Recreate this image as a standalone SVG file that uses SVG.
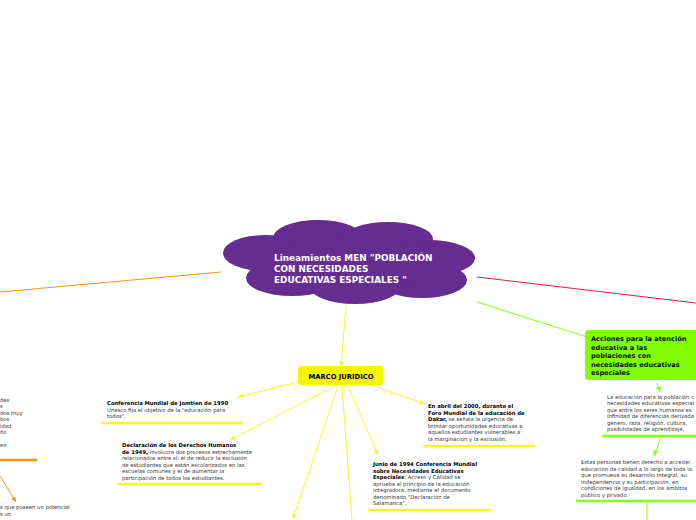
<svg xmlns="http://www.w3.org/2000/svg" width="696" height="520" viewBox="0 0 696 520">
<defs>
<style>
.t{font-family:"DejaVu Sans","Liberation Sans",sans-serif;font-size:5.3px;fill:#333}
.b{font-weight:bold;fill:#000}
.title{font-family:"DejaVu Sans","Liberation Sans",sans-serif;font-size:8.9px;font-weight:bold;fill:#fff}
.mj{font-family:"DejaVu Sans","Liberation Sans",sans-serif;font-size:6.8px;font-weight:bold;fill:#000}
.ac{font-family:"DejaVu Sans","Liberation Sans",sans-serif;font-size:6.6px;font-weight:bold;fill:#111}
.y{stroke:#f5f530;stroke-width:1;fill:none}
.g{stroke:#80ff20;stroke-width:1;fill:none}
</style>
<marker id="ay" viewBox="0 0 10 10" refX="9" refY="5" markerWidth="6" markerHeight="6" orient="auto"><path d="M0,1 L10,5 L0,9 z" fill="#f5f530"/></marker>
<marker id="ag" viewBox="0 0 10 10" refX="9" refY="5" markerWidth="6" markerHeight="6" orient="auto"><path d="M0,1 L10,5 L0,9 z" fill="#80ff20"/></marker>
<marker id="ao" viewBox="0 0 10 10" refX="9" refY="5" markerWidth="6" markerHeight="6" orient="auto"><path d="M0,1 L10,5 L0,9 z" fill="#f7941d"/></marker>
</defs>
<rect width="696" height="520" fill="#fff"/>
<g id="connectors">
<line x1="221" y1="272" x2="0" y2="292" stroke="#f7941d" stroke-width="1"/>
<line x1="477" y1="277" x2="696" y2="303" stroke="#d2233c" stroke-width="1"/>
<line x1="477" y1="302" x2="590" y2="338" class="g"/>
<line x1="346" y1="305" x2="341" y2="367" class="y" marker-end="url(#ay)"/>
<line x1="298" y1="382" x2="238" y2="397" class="y" marker-end="url(#ay)"/>
<line x1="335" y1="386" x2="230" y2="440" class="y" marker-end="url(#ay)"/>
<line x1="338" y1="386" x2="293" y2="519" class="y" marker-end="url(#ay)"/>
<line x1="342" y1="386" x2="352" y2="520" class="y"/>
<line x1="348" y1="386" x2="378" y2="455" class="y" marker-end="url(#ay)"/>
<line x1="368" y1="384" x2="425" y2="404" class="y" marker-end="url(#ay)"/>
<line x1="657" y1="383" x2="660" y2="392" class="g" marker-end="url(#ag)"/>
<line x1="661" y1="437" x2="654" y2="456" class="g" marker-end="url(#ag)"/>
<line x1="647" y1="502" x2="647" y2="520" class="g"/>
<line x1="0" y1="476" x2="16" y2="502" stroke="#f7941d" stroke-width="1" marker-end="url(#ao)"/>
</g>
<g id="central">
<g fill="#662d91">
<ellipse cx="265" cy="253" rx="42" ry="18"/>
<ellipse cx="318" cy="238" rx="45" ry="18"/>
<ellipse cx="388" cy="239" rx="45" ry="17"/>
<ellipse cx="428" cy="258" rx="47" ry="18"/>
<ellipse cx="422" cy="280" rx="45" ry="18"/>
<ellipse cx="355" cy="287" rx="45" ry="17"/>
<ellipse cx="292" cy="278" rx="46" ry="18"/>
<ellipse cx="350" cy="262" rx="100" ry="24"/>
</g>
<text class="title" x="274" y="261">Lineamientos MEN "POBLACIÓN</text>
<text class="title" x="274" y="272">CON NECESIDADES</text>
<text class="title" x="274" y="283">EDUCATIVAS ESPECIALES "</text>
</g>
<g id="marco">
<rect x="298" y="366" width="85" height="19" rx="3" fill="#f5f500"/>
<text class="mj" x="341" y="378.5" text-anchor="middle">MARCO JURÍDICO</text>
</g>
<g id="jomtien">
<text class="t b" x="107" y="405">Conferencia Mundial de Jomtien de 1990</text>
<text class="t" x="107" y="411.5">Unesco fija el objetivo de la "educación para</text>
<text class="t" x="107" y="418">todos".</text>
<line x1="102" y1="423" x2="243" y2="423" stroke="#f5f530" stroke-width="2.5"/>
</g>
<g id="declaracion">
<text class="t b" x="122" y="447">Declaración de los Derechos Humanos</text>
<text class="t" x="122" y="453.5"><tspan class="b">de 1949,</tspan> involucra dos procesos estrechamente</text>
<text class="t" x="122" y="460">relacionados entre sí: el de reducir la exclusión</text>
<text class="t" x="122" y="466.5">de estudiantes que están escolarizados en las</text>
<text class="t" x="122" y="473">escuelas comunes y el de aumentar la</text>
<text class="t" x="122" y="479.5">participación de todos los estudiantes.</text>
<line x1="117" y1="484" x2="262" y2="484" stroke="#f5f530" stroke-width="2.5"/>
</g>
<g id="dakar">
<text class="t b" x="428" y="408">En abril del 2000, durante el</text>
<text class="t b" x="428" y="414.5">Foro Mundial de la educación de</text>
<text class="t" x="428" y="421"><tspan class="b">Dakar,</tspan> se señala la urgencia de</text>
<text class="t" x="428" y="427.5">brindar oportunidades educativas a</text>
<text class="t" x="428" y="434">aquellos estudiantes vulnerables a</text>
<text class="t" x="428" y="440.5">la marginación y la exclusión.</text>
<line x1="423" y1="446" x2="535" y2="446" stroke="#f5f530" stroke-width="2.5"/>
</g>
<g id="salamanca">
<text class="t b" x="373" y="466">Junio de 1994 Conferencia Mundial</text>
<text class="t b" x="373" y="472.5">sobre Necesidades Educativas</text>
<text class="t" x="373" y="479"><tspan class="b">Especiales</tspan>: Acceso y Calidad se</text>
<text class="t" x="373" y="485.5">aprueba el principio de la educación</text>
<text class="t" x="373" y="492">integradora, mediante el documento</text>
<text class="t" x="373" y="498.5">denominado "Declaración de</text>
<text class="t" x="373" y="505">Salamanca".</text>
<line x1="368" y1="510" x2="491" y2="510" stroke="#f5f530" stroke-width="2.5"/>
</g>
<g id="acciones">
<rect x="585" y="330" width="120" height="50" rx="4" fill="#80ff00"/>
<text class="ac" x="591" y="341">Acciones para la atención</text>
<text class="ac" x="591" y="349.5">educativa a las</text>
<text class="ac" x="591" y="358">poblaciones con</text>
<text class="ac" x="591" y="366.5">necesidades educativas</text>
<text class="ac" x="591" y="375">especiales</text>
</g>
<g id="educacion">
<text class="t" x="607" y="398.5">La educación para la población c</text>
<text class="t" x="607" y="405">necesidades educativas especial</text>
<text class="t" x="607" y="411.5">que entre los seres humanos ex</text>
<text class="t" x="607" y="418">infinidad de diferencias derivada</text>
<text class="t" x="607" y="424.5">género, raza, religión, cultura,</text>
<text class="t" x="607" y="431">posibilidades de aprendizaje.</text>
<line x1="602" y1="436" x2="696" y2="436" stroke="#80ff20" stroke-width="2.5"/>
</g>
<g id="personas">
<text class="t" x="581" y="464">Estas personas tienen derecho a acceder</text>
<text class="t" x="581" y="470.5">educación de calidad a lo largo de toda la</text>
<text class="t" x="581" y="477">que promueva su desarrollo integral, su</text>
<text class="t" x="581" y="483.5">independencia y su participación, en</text>
<text class="t" x="581" y="490">condiciones de igualdad, en los ámbitos</text>
<text class="t" x="581" y="496.5">público y privado.</text>
<line x1="576" y1="501" x2="696" y2="501" stroke="#80ff20" stroke-width="2.5"/>
</g>
<g id="left-node">
<text class="t" x="0" y="401.5">des</text>
<text class="t" x="0" y="408">s</text>
<text class="t" x="0" y="414.5">dos muy</text>
<text class="t" x="0" y="421">bos</text>
<text class="t" x="0" y="427.5">idad</text>
<text class="t" x="0" y="434">ño</text>
<text class="t" x="0" y="447">en</text>
<line x1="0" y1="460" x2="37" y2="460" stroke="#f7941d" stroke-width="2.5"/>
</g>
<g id="left-bottom">
<text class="t" x="0" y="509">s que poseen un potencial</text>
<text class="t" x="0" y="515.5">s un</text>
</g>
</svg>
